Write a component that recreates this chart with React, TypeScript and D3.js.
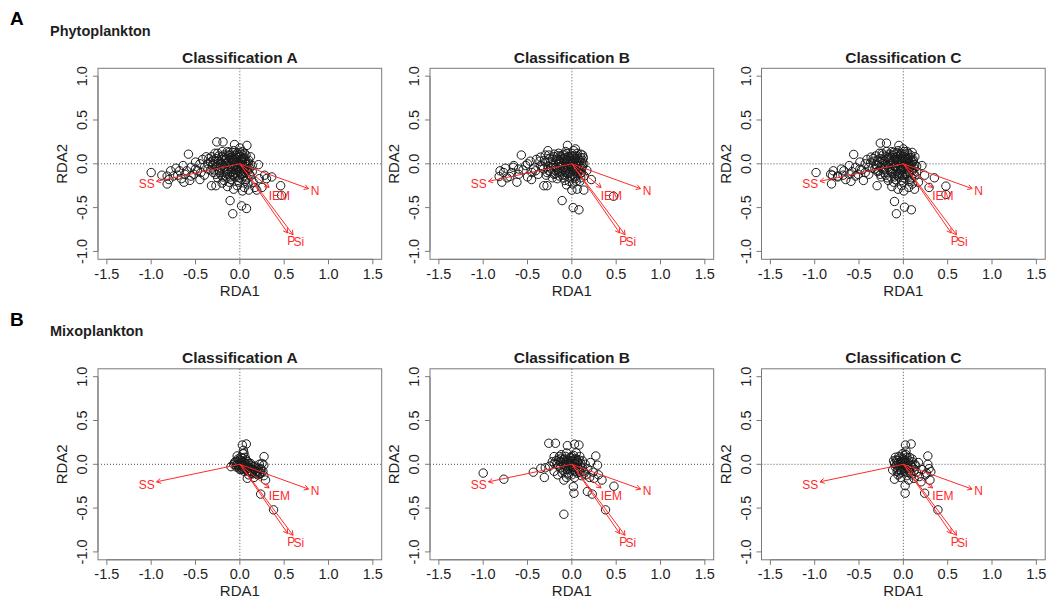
import React from 'react';
import * as d3 from 'd3';

const xTicks = [-1.5, -1, -0.5, 0, 0.5, 1, 1.5];
const xTickLabels = ['-1.5', '-1.0', '-0.5', '0.0', '0.5', '1.0', '1.5'];
const yTicks = [-1, -0.5, 0, 0.5, 1];
const yTickLabels = ['-1.0', '-0.5', '0.0', '0.5', '1.0'];

const rowLetters = ['A', 'B'];
const rowNames = ['Phytoplankton', 'Mixoplankton'];
const panelTitles = ['Classification A', 'Classification B', 'Classification C'];

const envNames = ['SS', 'N', 'IEM', 'P', 'Si'];
const envX = [-0.94, 0.775, 0.33, 0.54, 0.6];
const envY = [-0.2, -0.283, -0.27, -0.79, -0.81];
const envLabelX = [-1.05, 0.85, 0.445, 0.58, 0.665];
const envLabelY = [-0.23, -0.305, -0.36, -0.878, -0.893];

// site scores, flat [x, y, x, y, ...]
const phytoA = [
  -1.0,-0.10, -0.88,-0.13, -0.82,-0.14, -0.82,-0.23, -0.78,-0.08, -0.72,-0.05, -0.70,-0.13, -0.66,-0.17,
  -0.64,-0.02, -0.63,-0.21, -0.60,-0.08, -0.58,0.11, -0.565,-0.19, -0.55,-0.04, -0.52,-0.12, -0.50,0.02,
  -0.48,-0.08, -0.45,-0.18, -0.45,0.0, -0.42,0.05, -0.40,-0.13, -0.38,0.08, -0.36,-0.06, -0.33,0.02,
  -0.32,-0.25, -0.30,-0.10, -0.28,0.12, -0.27,-0.25, -0.26,0.25, -0.25,-0.16, -0.24,0.04, -0.22,-0.05,
  -0.20,0.14, -0.19,0.25, -0.19,-0.15, -0.17,0.07, -0.15,-0.09, -0.14,0.01, -0.13,0.10, -0.12,-0.21,
  -0.11,-0.42, -0.10,-0.04, -0.09,0.05, -0.08,-0.57, -0.08,-0.13, -0.07,0.15, -0.06,0.22, -0.05,-0.02,
  -0.04,0.09, -0.03,-0.25, -0.03,-0.08, -0.02,0.03, 0.0,0.18, 0.0,-0.16, 0.01,-0.05, 0.02,-0.48,
  0.02,0.06, 0.03,-0.31, 0.04,-0.11, 0.05,0.12, 0.06,0.00, 0.06,-0.20, 0.075,-0.51, 0.08,0.21,
  0.08,-0.07, 0.10,-0.30, 0.10,0.04, 0.12,-0.14, 0.14,-0.02, 0.15,-0.21, 0.17,-0.27, 0.19,-0.30,
  0.21,-0.01, 0.22,-0.17, 0.25,-0.27, 0.28,-0.13, 0.30,-0.17, 0.36,-0.15, 0.46,-0.25, 0.47,-0.36,
  -0.35,0.06, -0.31,-0.02, -0.27,0.06, -0.23,-0.10, -0.21,0.0, -0.18,-0.04, -0.16,0.04, -0.13,-0.06,
  -0.11,0.07, -0.09,-0.09, -0.07,0.02, -0.05,-0.11, -0.04,0.05, -0.02,-0.03, 0.0,0.08, 0.01,-0.02,
  0.03,0.03, 0.04,-0.06, 0.05,0.07, 0.07,-0.03, 0.09,0.02, 0.11,-0.05, -0.15,-0.15, -0.10,-0.18,
  -0.06,-0.15, 0.02,-0.12, 0.08,-0.16, -0.12,0.13, -0.03,0.12, 0.03,0.14, -0.20,0.08, -0.25,0.0,
  -0.30,0.04, -0.40,-0.04, -0.44,-0.10, -0.50,-0.06, -0.55,-0.14, -0.62,-0.12, -0.68,-0.08, -0.75,-0.14,
  -0.80,-0.18, 0.12,0.08, 0.14,-0.09, 0.09,-0.23, 0.05,-0.27, -0.01,-0.21, -0.07,-0.29, -0.14,-0.26,
  -0.20,-0.22,
  -0.30,0.0, -0.29,-0.07, -0.28,0.03, -0.26,-0.03, -0.24,0.09, -0.23,-0.08, -0.22,0.02, -0.21,-0.13,
  -0.20,0.05, -0.19,-0.02, -0.18,0.10, -0.17,-0.08, -0.16,0.0, -0.15,0.06, -0.14,-0.12, -0.13,0.03,
  -0.12,-0.03, -0.11,0.10, -0.10,-0.10, -0.10,0.0, -0.09,0.08, -0.08,-0.05, -0.07,0.05, -0.07,-0.12,
  -0.06,-0.01, -0.05,0.10, -0.05,-0.07, -0.04,0.02, -0.03,-0.14, -0.03,0.07, -0.02,-0.05, -0.01,0.00,
  -0.01,0.10, 0.00,-0.09, 0.01,0.04, 0.02,-0.07, 0.02,0.11, 0.03,-0.01, 0.04,-0.14, 0.04,0.06,
  0.05,-0.04, 0.06,0.03, 0.06,-0.10, 0.07,0.10, 0.08,-0.01, 0.09,-0.08, 0.10,0.00, 0.11,-0.12,
  -0.27,-0.12, -0.33,-0.07, -0.36,0.0, -0.14,0.14, -0.08,0.13, 0.0,0.13, 0.07,-0.18, -0.02,-0.19,
  -0.11,-0.15, -0.18,-0.19, -0.25,0.12, -0.32,0.08,
];

const phytoB = [
  -0.82,-0.145, -0.81,-0.08, -0.79,-0.21, -0.77,-0.10, -0.73,-0.16, -0.70,-0.145, -0.66,-0.04, -0.655,-0.02,
  -0.62,-0.21, -0.60,-0.12, -0.57,0.10, -0.55,-0.07, -0.52,-0.02, -0.50,-0.15, -0.47,0.03, -0.455,-0.18,
  -0.43,-0.06, -0.40,0.05, -0.38,-0.12, -0.354,0.076, -0.33,-0.03, -0.316,-0.25, -0.30,0.10, -0.28,-0.25,
  -0.27,0.15, -0.26,-0.08, -0.24,0.02, -0.22,-0.16, -0.20,0.08, -0.18,-0.04, -0.166,-0.17, -0.15,0.12,
  -0.14,0.01, -0.12,-0.09, -0.11,-0.42, -0.10,0.06, -0.08,-0.13, -0.07,0.14, -0.05,0.21, -0.05,-0.03,
  -0.04,0.08, -0.03,-0.20, -0.02,0.02, 0.0,-0.30, 0.0,0.12, 0.01,-0.08, 0.015,-0.50, 0.02,0.04,
  0.03,-0.15, 0.04,0.17, 0.05,-0.02, 0.06,-0.29, 0.06,0.09, 0.07,-0.10, 0.08,-0.525, 0.08,0.02,
  0.09,-0.20, 0.10,0.11, 0.11,-0.05, 0.12,0.04, 0.135,-0.30, 0.135,0.0, 0.14,-0.14, 0.17,-0.076,
  0.22,-0.18, 0.47,-0.37, -0.35,-0.02, -0.31,0.04, -0.28,-0.10, -0.25,0.06, -0.23,-0.05, -0.21,0.0,
  -0.19,-0.11, -0.17,0.05, -0.16,-0.07, -0.13,0.09, -0.12,-0.02, -0.10,-0.06, -0.09,0.03, -0.07,-0.08,
  -0.06,0.05, -0.04,-0.11, -0.03,0.0, -0.01,0.06, 0.0,-0.04, 0.02,0.09, 0.03,-0.06, 0.04,0.01,
  0.06,-0.13, 0.07,0.06, 0.09,-0.03, 0.10,0.07, 0.11,-0.10, -0.02,-0.16, 0.05,-0.20, -0.08,-0.19,
  -0.14,-0.14, -0.45,-0.10, -0.50,0.0, -0.60,-0.06, -0.68,-0.10, -0.75,-0.05, 0.02,0.15, -0.09,0.11,
  0.12,0.10, 0.10,-0.16, -0.06,-0.24, 0.01,-0.23,
  -0.32,-0.06, -0.30,0.02, -0.27,-0.03, -0.26,0.10, -0.24,-0.09, -0.22,0.05, -0.21,-0.02, -0.20,-0.12,
  -0.18,0.03, -0.17,-0.06, -0.16,0.09, -0.15,-0.01, -0.14,-0.10, -0.13,0.05, -0.12,0.01, -0.11,-0.13,
  -0.10,0.10, -0.10,-0.02, -0.09,-0.07, -0.08,0.07, -0.07,0.00, -0.06,-0.10, -0.05,0.03, -0.05,0.12,
  -0.04,-0.05, -0.03,0.08, -0.02,-0.09, -0.02,0.04, -0.01,-0.01, 0.00,0.09, 0.01,0.02, 0.01,-0.12,
  0.02,-0.03, 0.03,0.06, 0.04,-0.09, 0.05,0.03, 0.05,-0.05, 0.06,0.12, 0.07,-0.01, 0.08,-0.07,
  0.09,0.04, 0.10,-0.11, 0.11,0.01, 0.12,-0.03, 0.13,0.07, 0.04,-0.17, -0.01,-0.14, -0.09,-0.16,
  -0.20,0.11, -0.29,-0.13, -0.36,0.03, -0.41,-0.08,
];

const phytoC = [
  -0.985,-0.10, -0.82,-0.12, -0.80,-0.13, -0.81,-0.23, -0.79,-0.08, -0.74,-0.15, -0.70,-0.06, -0.68,-0.13,
  -0.65,-0.18, -0.61,-0.02, -0.59,-0.20, -0.58,-0.09, -0.56,0.107, -0.54,-0.04, -0.51,-0.12, -0.49,0.02,
  -0.47,-0.07, -0.45,-0.19, -0.43,0.0, -0.41,0.05, -0.39,-0.12, -0.364,0.076, -0.35,-0.05, -0.33,0.03,
  -0.296,-0.25, -0.29,-0.09, -0.27,0.12, -0.26,0.236, -0.25,-0.15, -0.23,0.05, -0.21,-0.05, -0.19,0.236,
  -0.19,0.14, -0.18,-0.16, -0.16,0.07, -0.14,-0.09, -0.13,0.01, -0.12,0.10, -0.11,-0.21, -0.10,-0.43,
  -0.09,-0.04, -0.08,0.05, -0.078,-0.57, -0.07,-0.13, -0.06,0.15, -0.05,0.21, -0.04,-0.02, -0.03,0.09,
  -0.02,-0.25, -0.02,-0.08, -0.01,0.03, 0.0,0.17, 0.005,-0.31, 0.01,-0.16, 0.013,-0.495, 0.02,-0.05,
  0.03,0.06, 0.04,-0.11, 0.05,0.12, 0.06,0.0, 0.07,-0.20, 0.08,0.07, 0.09,-0.525, 0.09,-0.07,
  0.10,0.13, 0.11,0.03, 0.126,-0.29, 0.13,-0.14, 0.15,-0.03, 0.17,-0.21, 0.21,-0.02, 0.24,-0.13,
  0.29,-0.27, 0.35,-0.16, 0.48,-0.255, 0.48,-0.35, -0.34,0.06, -0.30,-0.02, -0.26,0.06, -0.22,-0.10,
  -0.20,0.0, -0.17,-0.04, -0.15,0.04, -0.12,-0.06, -0.10,0.07, -0.08,-0.09, -0.06,0.02, -0.04,-0.11,
  -0.03,0.05, -0.01,-0.03, 0.01,0.08, 0.02,-0.02, 0.04,0.03, 0.05,-0.06, 0.06,0.07, 0.08,-0.03,
  0.10,0.02, 0.12,-0.05, -0.14,-0.15, -0.09,-0.18, -0.05,-0.15, 0.03,-0.12, 0.09,-0.16, -0.11,0.13,
  -0.02,0.12, 0.04,0.14, -0.19,0.08, -0.24,0.0, -0.29,0.04, -0.39,-0.04, -0.43,-0.10, -0.49,-0.06,
  -0.54,-0.14, -0.61,-0.12, -0.67,-0.08, -0.74,-0.14, 0.13,0.08, 0.15,-0.09, 0.10,-0.23, 0.06,-0.27,
  0.0,-0.21, -0.06,-0.29, -0.13,-0.26,
  -0.31,-0.01, -0.28,-0.08, -0.27,0.02, -0.25,-0.04, -0.23,0.10, -0.22,-0.07, -0.21,0.03, -0.20,-0.13,
  -0.18,0.06, -0.17,-0.01, -0.16,0.11, -0.15,-0.07, -0.14,0.00, -0.13,0.07, -0.12,-0.11, -0.11,0.03,
  -0.10,-0.03, -0.09,0.11, -0.09,-0.11, -0.08,0.01, -0.07,0.08, -0.06,-0.05, -0.06,0.05, -0.05,-0.12,
  -0.04,0.00, -0.03,0.11, -0.03,-0.06, -0.02,0.03, -0.01,-0.13, 0.00,0.06, 0.00,-0.05, 0.01,0.00,
  0.02,0.11, 0.02,-0.09, 0.03,0.02, 0.04,-0.14, 0.05,0.05, 0.05,-0.03, 0.07,0.01, 0.07,-0.10,
  0.08,0.10, 0.09,-0.01, 0.10,-0.08, 0.11,0.05, 0.12,-0.11, 0.13,-0.01, -0.26,-0.12, -0.32,-0.06,
  -0.37,0.01, -0.13,0.14, -0.07,0.13, 0.01,0.14, 0.07,-0.18, -0.02,-0.19, -0.10,-0.15, -0.17,-0.19,
  -0.24,0.12, -0.31,0.09,
];

const mixoA = [
  -0.10,-0.027, -0.07,0.0, -0.05,0.03, -0.03,0.095, -0.03,0.03, -0.02,-0.01, 0.0,0.05, 0.0,0.01,
  0.01,-0.02, 0.02,0.04, 0.028,0.22, 0.03,0.0, 0.035,0.12, 0.04,-0.03, 0.047,0.126, 0.05,0.02,
  0.06,-0.05, 0.07,0.05, 0.073,0.232, 0.08,-0.02, 0.084,-0.16, 0.09,-0.08, 0.10,0.01, 0.11,-0.04,
  0.12,0.01, 0.13,-0.10, 0.14,-0.06, 0.16,-0.15, 0.17,-0.02, 0.18,-0.084, 0.19,-0.11, 0.20,-0.12,
  0.21,-0.05, 0.22,0.0, 0.235,-0.046, 0.235,-0.10, 0.235,-0.34, 0.25,0.01, 0.26,-0.08, 0.27,-0.01,
  0.273,0.088, 0.27,-0.13, 0.29,-0.18, 0.38,-0.52, 0.02,-0.06, -0.04,-0.03, 0.06,0.08, 0.10,-0.12,
  0.15,-0.03, 0.04,0.16,
  -0.06,0.02, -0.04,-0.01, -0.02,0.06, -0.01,-0.04, 0.01,0.08, 0.01,0.02, 0.03,-0.05, 0.03,0.07,
  0.05,-0.01, 0.05,-0.08, 0.07,0.01, 0.07,-0.06, 0.09,0.03, 0.09,-0.04, 0.11,-0.08, 0.12,-0.01,
  0.13,-0.05, 0.14,-0.11, 0.16,-0.07, 0.17,-0.10, 0.19,-0.04, 0.20,-0.08, 0.22,-0.11, 0.24,-0.06,
  0.0,-0.06, -0.03,0.0,
];

const mixoB = [
  -1.0,-0.10, -0.767,-0.17, -0.435,-0.09, -0.35,-0.046, -0.31,-0.15, -0.30,-0.04, -0.26,0.24, -0.25,-0.02,
  -0.22,0.03, -0.20,0.088, -0.20,-0.08, -0.185,0.24, -0.17,0.0, -0.16,-0.12, -0.15,0.05, -0.13,-0.04,
  -0.12,0.11, -0.11,0.02, -0.10,-0.07, -0.09,-0.18, -0.09,-0.57, -0.08,0.06, -0.07,-0.02, -0.06,0.13,
  -0.05,0.213, -0.05,-0.10, -0.04,0.03, -0.03,-0.05, -0.02,0.08, -0.01,-0.01, 0.0,0.04, 0.01,-0.07,
  0.017,-0.255, 0.02,0.10, 0.024,-0.33, 0.03,0.23, 0.03,0.01, 0.04,-0.04, 0.05,0.06, 0.06,-0.10,
  0.07,0.02, 0.08,0.22, 0.08,-0.06, 0.09,0.09, 0.10,-0.02, 0.11,-0.13, 0.12,0.04, 0.13,-0.08,
  0.15,0.0, 0.16,-0.12, 0.175,-0.31, 0.18,-0.05, 0.20,-0.15, 0.21,0.02, 0.23,-0.34, 0.24,-0.09,
  0.25,-0.16, 0.27,0.095, 0.29,-0.01, 0.30,-0.12, 0.34,-0.18, 0.38,-0.52, 0.475,-0.25, -0.14,0.09,
  -0.06,-0.15, 0.0,-0.12, 0.05,0.13, -0.18,0.04, -0.10,0.05, 0.0,0.0, 0.02,-0.03, -0.03,0.01,
  0.06,0.04,
  -0.15,-0.02, -0.13,0.03, -0.11,-0.10, -0.09,0.0, -0.08,-0.04, -0.07,0.09, -0.06,0.02, -0.05,-0.06,
  -0.04,0.05, -0.02,-0.02, -0.01,0.07, 0.01,0.03, 0.01,-0.04, 0.03,0.06, 0.04,-0.08, 0.05,0.0,
  0.07,-0.04, 0.08,0.05, 0.09,-0.09, 0.10,0.01, 0.12,-0.04, 0.14,-0.10, -0.12,0.07, -0.20,0.01,
  0.0,0.09, 0.03,-0.15, -0.04,-0.12,
];

const mixoC = [
  -0.12,-0.065, -0.10,0.01, -0.10,-0.17, -0.09,-0.03, -0.08,0.05, -0.07,-0.08, -0.06,-0.12, -0.06,0.02,
  -0.05,0.09, -0.04,-0.04, -0.03,0.03, -0.02,-0.09, -0.01,0.12, 0.0,-0.01, 0.0,0.06, 0.01,-0.05,
  0.02,-0.244, 0.02,-0.33, 0.02,0.02, 0.024,0.22, 0.03,0.15, 0.04,-0.13, 0.04,0.08, 0.05,-0.02,
  0.06,0.04, 0.07,-0.07, 0.08,0.0, 0.088,0.232, 0.09,-0.12, 0.10,0.06, 0.11,-0.04, 0.12,-0.16,
  0.14,-0.02, 0.15,-0.09, 0.17,0.02, 0.18,-0.14, 0.20,-0.20, 0.21,-0.06, 0.24,-0.33, 0.25,-0.12,
  0.26,-0.10, 0.276,0.095, 0.276,0.0, 0.29,-0.05, 0.30,-0.18, 0.31,-0.085, 0.39,-0.52, -0.11,0.04,
  0.06,-0.18, -0.03,-0.15,
  -0.08,-0.01, -0.07,0.04, -0.06,-0.06, -0.05,0.0, -0.04,0.07, -0.03,-0.07, -0.02,0.01, -0.01,-0.03,
  -0.01,0.05, 0.01,0.10, 0.01,-0.08, 0.02,0.04, 0.03,-0.02, 0.04,-0.09, 0.05,0.02, 0.06,-0.05,
  0.07,0.08, 0.08,-0.10, 0.09,-0.02, 0.10,0.03, 0.12,-0.08, 0.13,0.0, -0.09,0.08, -0.04,-0.10,
  0.0,0.0, 0.03,0.11,
];

const panelData = [[phytoA, phytoB, phytoC], [mixoA, mixoB, mixoC]];

const FONT = '"Liberation Sans", Arial, Helvetica, sans-serif';
const COL_X = [98, 430, 761.5];
const ROW_Y = [68.3, 368.8];
const PW = 283.7;
const PH = 191;
const AXIS_COL = '#7a7a7a';
const TEXT_COL = '#1e1e1e';
const RED = '#ff2a2a';

function Panel({ x0, y0, pts, title }: { x0: number; y0: number; pts: number[]; title: string }) {
  const xs = d3.scaleLinear().domain([-1.6, 1.6]).range([x0, x0 + PW]);
  const ys = d3.scaleLinear().domain([-1.09, 1.09]).range([y0 + PH, y0]);
  const points: [number, number][] = [];
  for (let i = 0; i < pts.length; i += 2) points.push([pts[i], pts[i + 1]]);
  const ox = xs(0);
  const oy = ys(0);
  const headLen = 5;
  const headAng = Math.PI / 6;
  const bottom = y0 + PH;
  return (
    <g>
      <line x1={ox} x2={ox} y1={y0} y2={bottom} stroke="#555" strokeWidth={1} strokeDasharray="1 2" />
      <line x1={x0} x2={x0 + PW} y1={oy} y2={oy} stroke="#555" strokeWidth={1} strokeDasharray="1 2" />
      {points.map((p, i) => (
        <circle key={i} cx={xs(p[0])} cy={ys(p[1])} r={4.2} fill="none" stroke="#1a1a1a" strokeWidth={1} />
      ))}
      {envNames.map((n, i) => {
        const tx = xs(envX[i]);
        const ty = ys(envY[i]);
        const ang = Math.atan2(ty - oy, tx - ox);
        const h1x = tx - headLen * Math.cos(ang - headAng);
        const h1y = ty - headLen * Math.sin(ang - headAng);
        const h2x = tx - headLen * Math.cos(ang + headAng);
        const h2y = ty - headLen * Math.sin(ang + headAng);
        return (
          <g key={n}>
            <line x1={ox} y1={oy} x2={tx} y2={ty} stroke={RED} strokeWidth={1} />
            <polyline points={`${h1x},${h1y} ${tx},${ty} ${h2x},${h2y}`} fill="none" stroke={RED} strokeWidth={1} />
          </g>
        );
      })}
      {envNames.map((n, i) => (
        <text key={'l' + n} x={xs(envLabelX[i])} y={ys(envLabelY[i])} dy="0.36em" textAnchor="middle"
          fontFamily={FONT} fontSize={12} fill={RED}>{n}</text>
      ))}
      <rect x={x0} y={y0} width={PW} height={PH} fill="none" stroke={AXIS_COL} strokeWidth={1} />
      <line x1={xs(xTicks[0])} x2={xs(xTicks[xTicks.length - 1])} y1={bottom} y2={bottom} stroke={AXIS_COL} />
      {xTicks.map((t, i) => (
        <g key={'xt' + i}>
          <line x1={xs(t)} x2={xs(t)} y1={bottom} y2={bottom + 5} stroke={AXIS_COL} />
          <text x={xs(t)} y={bottom + 14} dy="0.36em" textAnchor="middle" fontFamily={FONT} fontSize={14.5} fill={TEXT_COL}>
            {xTickLabels[i]}
          </text>
        </g>
      ))}
      <line x1={x0} x2={x0} y1={ys(yTicks[0])} y2={ys(yTicks[yTicks.length - 1])} stroke={AXIS_COL} />
      {yTicks.map((t, i) => (
        <g key={'yt' + i}>
          <line x1={x0 - 5} x2={x0} y1={ys(t)} y2={ys(t)} stroke={AXIS_COL} />
          <text transform={`translate(${x0 - 16},${ys(t)}) rotate(-90)`} dy="0.36em" textAnchor="middle"
            fontFamily={FONT} fontSize={14.5} fill={TEXT_COL}>
            {yTickLabels[i]}
          </text>
        </g>
      ))}
      <text x={x0 + PW / 2} y={bottom + 31} dy="0.36em" textAnchor="middle" fontFamily={FONT} fontSize={15} fill={TEXT_COL}>RDA1</text>
      <text transform={`translate(${x0 - 36},${y0 + PH / 2}) rotate(-90)`} dy="0.36em" textAnchor="middle"
        fontFamily={FONT} fontSize={15} fill={TEXT_COL}>RDA2</text>
      <text x={x0 + PW / 2} y={y0 - 5.5} textAnchor="middle" fontFamily={FONT} fontSize={15.5} fontWeight="bold" fill={TEXT_COL}>
        {title}
      </text>
    </g>
  );
}

export default function App() {
  return (
    <svg width={1049} height={603} viewBox="0 0 1049 603"
      style={{ position: 'absolute', left: 0, top: 0, display: 'block', background: '#fff' }}>
      <rect x={0} y={0} width={1049} height={603} fill="#fff" />
      {rowLetters.map((L, r) => (
        <g key={L}>
          <text x={10} y={ROW_Y[r] - 43} fontFamily={FONT} fontSize={19} fontWeight="bold" fill="#000">{L}</text>
          <text x={50} y={ROW_Y[r] - 32.5} fontFamily={FONT} fontSize={14.5} fontWeight="bold" fill={TEXT_COL}>{rowNames[r]}</text>
          {panelTitles.map((t, c) => (
            <Panel key={t} x0={COL_X[c]} y0={ROW_Y[r]} pts={panelData[r][c]} title={t} />
          ))}
        </g>
      ))}
    </svg>
  );
}
